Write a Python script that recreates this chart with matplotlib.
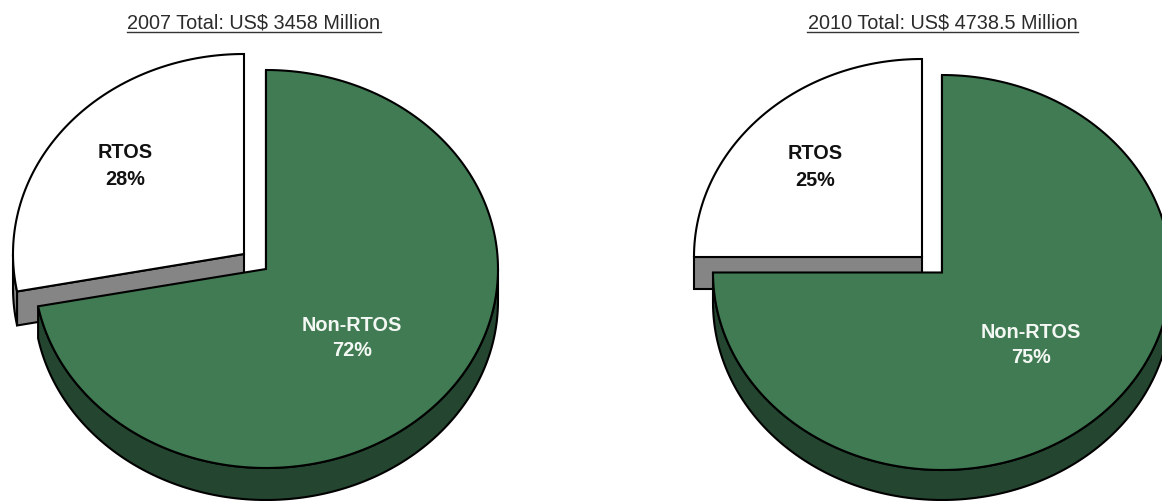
import numpy as np
import matplotlib
matplotlib.use("Agg")
import matplotlib.pyplot as plt
from matplotlib.patches import Polygon

plt.rcParams["font.family"] = ["Liberation Sans", "DejaVu Sans"]

titles = ["2007 Total: US$ 3458 Million", "2010 Total: US$ 4738.5 Million"]
categories = ["RTOS", "Non-RTOS"]
shares_2007 = [28, 72]
shares_2010 = [25, 75]

GREEN = "#417b53"
DARK_GREEN = "#24452f"
GREY = "#858585"
WHITE = "#ffffff"
EDGE = "#000000"
LINE = 1.5


def arc(cx, cy, rx, ry, start, stop):
    t = np.radians(np.linspace(start, stop, 200))
    return np.column_stack([cx + rx * np.cos(t), cy - ry * np.sin(t)])


def draw_slice(ax, centre, rx, ry, depth, start, stop, top_color, side_color, cut_color, z):
    cx, cy = centre
    down = np.array([0, depth])

    # outer wall, only the part of the rim facing the viewer
    for lo, hi in [(max(start, -180), min(stop, 0)), (max(start, 180), min(stop, 360))]:
        if hi > lo:
            rim = arc(cx, cy, rx, ry, lo, hi)
            wall = np.vstack([rim, (rim + down)[::-1]])
            ax.add_patch(Polygon(wall, closed=True, fc=side_color, ec=EDGE, lw=LINE, zorder=z))

    # flat cut face at the far end of the slice
    end = arc(cx, cy, rx, ry, stop, stop)[0]
    corner = np.array([cx, cy])
    cut = np.array([corner, end, end + down, corner + down])
    ax.add_patch(Polygon(cut, closed=True, fc=cut_color, ec=EDGE, lw=LINE, zorder=z))

    face = np.vstack([corner, arc(cx, cy, rx, ry, start, stop)])
    ax.add_patch(Polygon(face, closed=True, fc=top_color, ec=EDGE, lw=LINE, zorder=z + 1))


def draw_pie(ax, shares, white_centre, green_centre, rx, ry, depths):
    rtos_sweep = shares[0] * 3.6
    draw_slice(ax, white_centre, rx[0], ry[0], depths[0], 90, 90 + rtos_sweep, WHITE, GREY, GREY, 2)
    draw_slice(ax, green_centre, rx[1], ry[1], depths[1], 90 + rtos_sweep, 450, GREEN, DARK_GREEN, GREEN, 4)


fig = plt.figure(figsize=(11.62, 5.01), dpi=100)
ax = fig.add_axes([0, 0, 1, 1])
ax.set_xlim(0, 1162)
ax.set_ylim(501, 0)
ax.axis("off")

draw_pie(ax, shares_2007, (244, 254), (266, 269), (231, 232), (200, 199), (34, 32))
draw_pie(ax, shares_2010, (922, 257), (942, 272.5), (228, 229), (198, 197.5), (32, 30))

title_x = [254, 942.5]
title_y = [23, 23]
for x, y, title in zip(title_x, title_y, titles):
    ax.text(x, y, title, ha="center", va="center", fontsize=14.3, color="#2b2b2b", zorder=10)

# titles are underlined
underline_x = [(127, 381), (807, 1078)]
for (x0, x1), y in zip(underline_x, title_y):
    ax.plot([x0, x1], [y + 9, y + 9], color="#333333", lw=1.0, zorder=10)

rtos_pos = [(125, 166), (815.5, 167)]
other_pos = [(352, 338), (1031, 345)]
for shares, p, q in zip([shares_2007, shares_2010], rtos_pos, other_pos):
    ax.text(p[0], p[1], f"{categories[0]}\n{shares[0]}%", ha="center", va="center",
            fontsize=14.3, fontweight="bold", color="#111111", linespacing=1.5, zorder=10)
    ax.text(q[0], q[1], f"{categories[1]}\n{shares[1]}%", ha="center", va="center",
            fontsize=14.3, fontweight="bold", color="#f4f8f4", linespacing=1.45, zorder=10)

fig.savefig("out.png", dpi=100)
